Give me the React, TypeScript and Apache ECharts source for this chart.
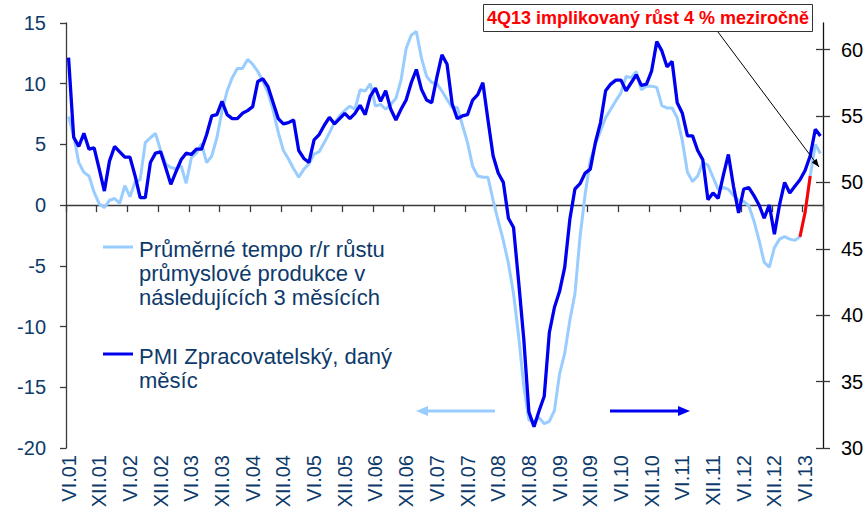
import React, { useEffect, useRef } from "react";
import * as echarts from "echarts";

// ---- data ----
const ROMAN = ["I", "II", "III", "IV", "V", "VI", "VII", "VIII", "IX", "X", "XI", "XII"];
const START_YEAR = 2001;
const START_MONTH = 5; // June (0-based)
const MONTH_COUNT = 148;
const categories: string[] = [];
for (let i = 0; i < MONTH_COUNT; i++) {
  const m = (START_MONTH + i) % 12;
  const y = START_YEAR + Math.floor((START_MONTH + i) / 12);
  categories.push(`${ROMAN[m]}.${String(y % 100).padStart(2, "0")}`);
}

// Average y/y growth of industrial production in the following 3 months (left axis, %)
const industryGrowth: number[] = [
  7.3, 5.7, 3.5, 2.7, 2.4, 1.05, 0.1, -0.2, 0.4, 0.55, 0.15, 1.6,
  0.7, 1.9, 2.1, 5.15, 5.55, 5.9, 4.5, 3.4, 3.1, 3.0, 3.25, 1.8,
  3.9, 4.3, 5.05, 3.5, 4.05, 5.55, 7.75, 9.4, 10.5, 11.25, 11.25, 12.0,
  11.6, 11.0, 10.2, 9.25, 7.8, 6.0, 4.5, 3.8, 3.0, 2.3, 2.95, 3.4,
  4.2, 4.4, 5.15, 5.95, 6.8, 7.35, 7.8, 8.15, 7.9, 9.5, 9.4, 10.0,
  8.15, 8.3, 7.9, 8.3, 8.8, 10.3, 12.9, 14.0, 14.3, 12.1, 10.6, 10.1,
  10.0, 9.4, 8.7, 8.05, 8.05, 6.6, 5.15, 3.2, 2.4, 2.3, 2.3, 0.4,
  -1.3, -2.9, -4.8, -7.3, -10.8, -14.9, -17.7, -17.8, -17.5, -18.0, -17.8, -16.9,
  -13.9, -12.2, -9.5, -7.3, -2.6, 0.9, 3.7, 5.0, 6.1, 7.2, 7.9, 8.6,
  9.25, 10.6, 10.5, 11.0, 9.5, 9.8, 9.8, 9.7, 8.2, 8.0, 8.0, 7.2,
  5.3, 2.7, 1.95, 2.4, 3.5, 3.3, 2.3, 1.3, 1.45, 1.3, 0.8, 0.4,
  0.3, -0.05, -1.3, -2.9, -4.7, -5.1, -3.5, -2.8, -2.6, -2.8, -2.9, -2.6,
  -0.6, 2.4, 5.0, 4.25,
];

// PMI manufacturing, given month (right axis)
const pmi: number[] = [
  59.4, 53.4, 52.7, 53.7, 52.5, 52.6, 51.0, 49.35, 51.6, 52.7, 52.3, 51.9,
  51.9, 50.5, 48.85, 48.85, 51.5, 52.2, 52.3, 51.1, 49.85, 50.8, 51.7, 52.2,
  52.1, 52.5, 52.5, 53.6, 55.0, 55.1, 56.1, 55.1, 54.8, 54.8, 55.2, 55.4,
  55.7, 57.6, 57.8, 57.2, 56.0, 54.8, 54.4, 54.5, 54.7, 52.4, 51.8, 51.5,
  53.2, 53.6, 54.3, 54.9, 54.4, 54.8, 55.2, 54.8, 55.2, 55.8, 55.1, 56.5,
  57.1, 56.1, 56.9, 55.5, 54.7, 55.5, 56.2, 57.5, 58.5, 57.0, 56.2, 56.0,
  57.9, 59.6, 58.9, 55.9, 54.8, 55.0, 55.1, 56.2, 56.6, 57.5, 54.7, 52.0,
  50.7, 50.0, 47.3, 46.6, 42.5, 38.2, 32.7, 31.6, 32.8, 33.9, 38.7, 40.6,
  41.8, 43.6, 47.2, 49.5, 49.9, 50.7, 51.0, 53.0, 54.5, 56.9, 57.4, 57.7,
  57.7, 56.9, 57.5, 58.1, 57.3, 57.4, 58.4, 60.6, 59.9, 58.7, 59.1, 56.0,
  55.2, 53.5, 53.5, 52.4, 51.7, 48.7, 49.2, 48.8, 50.5, 52.1, 49.7, 47.7,
  49.5, 49.6, 49.0, 48.3, 47.3, 48.3, 46.1, 48.3, 50.0, 49.2, 49.7, 50.2,
  50.9, 52.0, 54.0, 53.5,
];

// Implied growth (red), left axis
const impliedCategories = ["V.13", "VI.13", "VII.13"];
const impliedValues = [-2.6, -0.6, 2.4];

const leftAxis = { min: -20, max: 15, interval: 5 };
const rightAxis = { min: 30, max: 62, interval: 5 };
const rightTicks = [30, 35, 40, 45, 50, 55, 60];

const legendItems = [
  { name: "Průměrné tempo r/r růstu\nprůmyslové produkce v\nnásledujících 3 měsících", color: "#99CCFF" },
  { name: "PMI Zpracovatelský, daný\nměsíc", color: "#0000F0" },
];
const annotationText = "4Q13 implikovaný růst 4 % meziročně";

// ---- styles ----
const FONT = 'Arial, "Liberation Sans", sans-serif';
const NAVY = "#0D3A6A";
const AXIS = "#3a3a3a";

function arrowHead(x1: number, y1: number, x2: number, y2: number, len: number, half: number) {
  const a = Math.atan2(y2 - y1, x2 - x1);
  const bx = x2 - len * Math.cos(a);
  const by = y2 - len * Math.sin(a);
  const px = -Math.sin(a) * half;
  const py = Math.cos(a) * half;
  return [
    [x2, y2],
    [bx + px, by + py],
    [bx - px, by - py],
  ];
}

export default function App() {
  const ref = useRef<HTMLDivElement>(null);

  useEffect(() => {
    if (!ref.current) return;
    const chart = echarts.init(ref.current, undefined, { renderer: "svg" });

    const implied: (number | null)[] = categories.map(() => null);
    impliedCategories.forEach((c, k) => {
      const idx = categories.indexOf(c);
      if (idx >= 0) implied[idx] = impliedValues[k];
    });

    const graphics: any[] = [];
    // legend
    const legendTops = [237, 344];
    legendItems.forEach((item, k) => {
      graphics.push({
        type: "line",
        shape: { x1: 103, y1: legendTops[k] + 10, x2: 133, y2: legendTops[k] + 10 },
        style: { stroke: item.color, lineWidth: 3 },
      });
      graphics.push({
        type: "text",
        x: 139,
        y: legendTops[k],
        style: {
          text: item.name,
          fill: NAVY,
          fontSize: 22,
          fontFamily: FONT,
          lineHeight: 24,
          verticalAlign: "top",
        },
      });
    });
    // direction arrows
    const arrows = [
      { x1: 495, x2: 416, y: 411, color: "#99CCFF" },
      { x1: 610, x2: 690, y: 411, color: "#0000F0" },
    ];
    arrows.forEach((a) => {
      const dir = a.x2 > a.x1 ? 1 : -1;
      graphics.push({
        type: "line",
        shape: { x1: a.x1, y1: a.y, x2: a.x2 - dir * 8, y2: a.y },
        style: { stroke: a.color, lineWidth: 3 },
      });
      graphics.push({
        type: "polygon",
        shape: { points: arrowHead(a.x1, a.y, a.x2, a.y, 12, 5) },
        style: { fill: a.color },
      });
    });
    // annotation
    graphics.push({
      type: "rect",
      shape: { x: 483.5, y: 4.5, width: 329, height: 27 },
      style: { fill: "#ffffff", stroke: "#333333", lineWidth: 1 },
      z: 100,
    });
    graphics.push({
      type: "text",
      x: 648,
      y: 18,
      style: {
        text: annotationText,
        fill: "#FF0000",
        fontSize: 18,
        fontWeight: "bold",
        fontFamily: FONT,
        align: "center",
        verticalAlign: "middle",
      },
      z: 101,
    });
    const ax1 = 718, ay1 = 32, ax2 = 819, ay2 = 167;
    graphics.push({
      type: "line",
      shape: { x1: ax1, y1: ay1, x2: ax2, y2: ay2 },
      style: { stroke: "#000000", lineWidth: 1 },
      z: 100,
    });
    graphics.push({
      type: "polygon",
      shape: { points: arrowHead(ax1, ay1, ax2, ay2, 8, 3) },
      style: { fill: "#000000" },
      z: 100,
    });

    chart.setOption({
      animation: false,
      backgroundColor: "#ffffff",
      grid: { left: 66, right: 44, top: 23, bottom: 68, containLabel: false, outerBoundsMode: "none" },
      xAxis: [
        {
          type: "category",
          data: categories,
          boundaryGap: true,
          position: "bottom",
          axisLine: { show: false, onZero: false },
          axisTick: { show: false },
          axisLabel: {
            interval: 5,
            rotate: 90,
            fontSize: 20,
            fontFamily: FONT,
            color: NAVY,
            margin: 7,
          },
          splitLine: { show: false },
        },
        {
          type: "category",
          data: categories,
          boundaryGap: true,
          position: "bottom",
          axisLine: { show: true, onZero: true, onZeroAxisIndex: 0, lineStyle: { color: AXIS, width: 1.3 } },
          axisTick: { show: true, interval: 5, inside: false, length: 7, lineStyle: { color: AXIS, width: 1.3 } },
          axisLabel: { show: false },
          splitLine: { show: false },
        },
      ],
      yAxis: [
        {
          type: "value",
          position: "left",
          min: leftAxis.min,
          max: leftAxis.max,
          interval: leftAxis.interval,
          axisLine: { show: true, lineStyle: { color: AXIS, width: 1.3 } },
          axisTick: { show: true, length: 6, lineStyle: { color: AXIS, width: 1.3 } },
          axisLabel: { fontSize: 20, fontFamily: FONT, color: NAVY, margin: 20 },
          splitLine: { show: false },
        },
        {
          type: "value",
          position: "right",
          min: rightAxis.min,
          max: rightAxis.max,
          interval: rightAxis.interval,
          axisLine: { show: true, lineStyle: { color: "#111111", width: 1.3 } },
          axisTick: { show: true, inside: true, length: 7, customValues: rightTicks, lineStyle: { color: AXIS, width: 1.3 } },
          axisLabel: {
            fontSize: 20,
            fontFamily: FONT,
            color: "#000000",
            margin: 18,
            formatter: (v: number) => (rightTicks.includes(v) ? String(v) : ""),
          },
          splitLine: { show: false },
        },
        {
          type: "value",
          position: "right",
          min: rightAxis.min,
          max: rightAxis.max,
          interval: rightAxis.interval,
          axisLine: { show: false },
          axisTick: { show: true, inside: false, length: 7, customValues: rightTicks, lineStyle: { color: AXIS, width: 1.3 } },
          axisLabel: { show: false },
          splitLine: { show: false },
        },
      ],
      series: [
        {
          name: "industry",
          type: "line",
          data: industryGrowth,
          xAxisIndex: 0,
          yAxisIndex: 0,
          symbol: "none",
          lineStyle: { color: "#99CCFF", width: 3 },
          z: 2,
        },
        {
          name: "pmi",
          type: "line",
          data: pmi,
          xAxisIndex: 0,
          yAxisIndex: 1,
          symbol: "none",
          lineStyle: { color: "#0000F0", width: 3.3 },
          z: 3,
        },
        {
          name: "implied",
          type: "line",
          data: implied,
          xAxisIndex: 0,
          yAxisIndex: 0,
          symbol: "none",
          connectNulls: false,
          lineStyle: { color: "#FF0000", width: 3 },
          z: 4,
        },
      ],
      graphic: graphics,
    });

    return () => chart.dispose();
  }, []);

  return (
    <div
      ref={ref}
      style={{ position: "fixed", left: 0, top: 0, width: 867, height: 516, background: "#fff" }}
    />
  );
}
